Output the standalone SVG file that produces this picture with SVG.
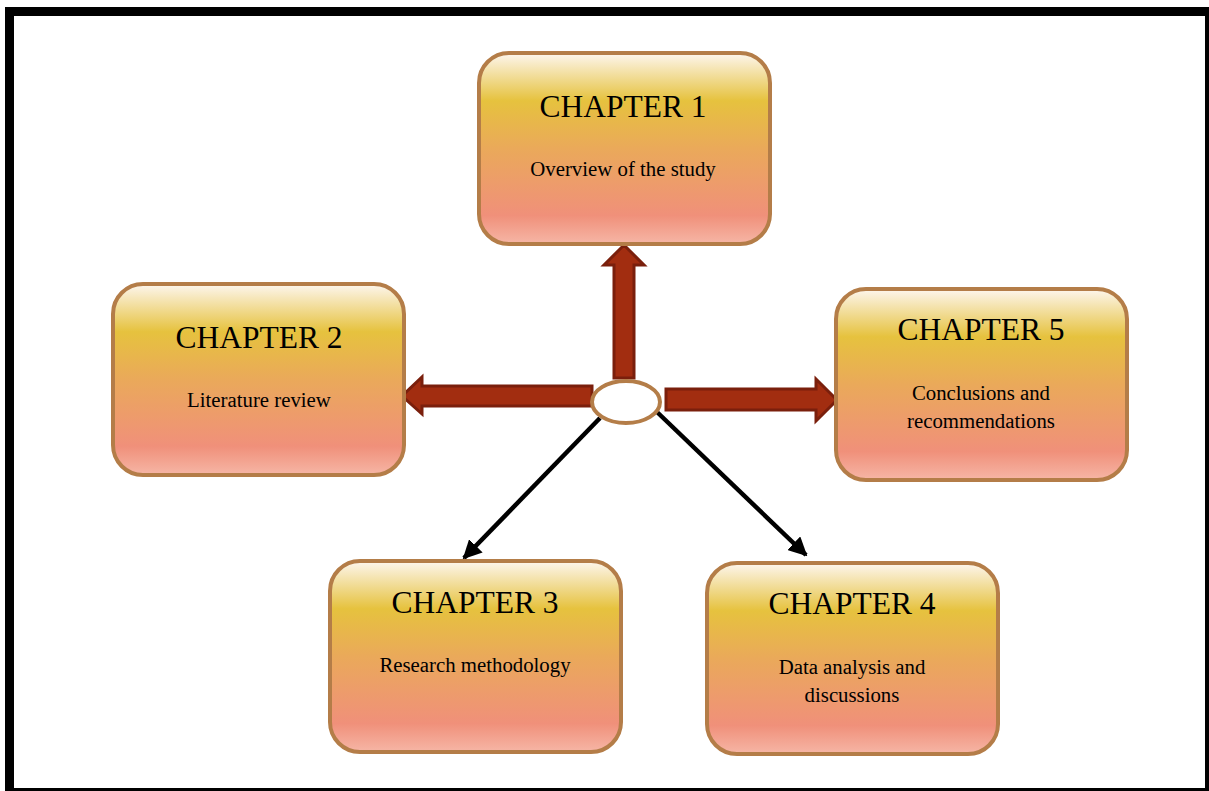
<svg xmlns="http://www.w3.org/2000/svg" width="1209" height="791" viewBox="0 0 1209 791">
<defs>
<linearGradient id="g" x1="0" y1="0" x2="0" y2="1">
<stop offset="0" stop-color="#fdf6ee"/>
<stop offset="0.25" stop-color="#e6c23e"/>
<stop offset="0.5" stop-color="#eaa95a"/>
<stop offset="0.85" stop-color="#f0907a"/>
<stop offset="1" stop-color="#f6b6a6"/>
</linearGradient>
<marker id="ah" viewBox="0 0 10 10" refX="9" refY="5" markerWidth="4.2" markerHeight="4.2" orient="auto" markerUnits="strokeWidth">
<path d="M0,0 L10,5 L0,10 z" fill="#000"/>
</marker>
<style>
.box{fill:url(#g);stroke:#b47d48;stroke-width:4}
.t1{font-family:"Liberation Serif","Times New Roman",serif;font-size:31.5px;text-anchor:middle;fill:#000}
.t2{font-family:"Liberation Serif","Times New Roman",serif;font-size:20.8px;text-anchor:middle;fill:#000}
.fat{fill:#a22d10;stroke:#7a1f0c;stroke-width:3;stroke-linejoin:miter}
.thin{stroke:#000;stroke-width:4.5;fill:none}
</style>
</defs>
<rect x="0" y="0" width="1209" height="791" fill="#fff"/>
<rect x="9.5" y="11.5" width="1200" height="781" fill="none" stroke="#000" stroke-width="9"/>
<g id="connectors">
<path class="fat" d="M614,378 L614,265 L604,265 L624,245 L644,265 L634,265 L634,378 Z"/>
<path class="fat" d="M592,386 L422,386 L422,377 L402,396 L422,414 L422,406 L592,406 Z"/>
<path class="fat" d="M666,389 L816,389 L816,379 L837,400 L816,421 L816,410 L666,410 Z"/>
<line class="thin" x1="600" y1="418" x2="464" y2="558" marker-end="url(#ah)"/>
<line class="thin" x1="657" y1="412" x2="806" y2="555" marker-end="url(#ah)"/>
</g>
<g id="hub">
<ellipse cx="626" cy="402" rx="34" ry="21" fill="#fff" stroke="#b47d48" stroke-width="4"/>
</g>
<g id="ch1">
<rect class="box" x="479" y="53" width="291" height="191" rx="30"/>
<text class="t1" x="623" y="117">CHAPTER 1</text>
<text class="t2" x="623" y="176">Overview of the study</text>
</g>
<g id="ch2">
<rect class="box" x="113" y="284" width="291" height="191" rx="30"/>
<text class="t1" x="259" y="348">CHAPTER 2</text>
<text class="t2" x="259" y="407">Literature review</text>
</g>
<g id="ch5">
<rect class="box" x="836" y="289" width="291" height="191" rx="30"/>
<text class="t1" x="981" y="340">CHAPTER 5</text>
<text class="t2" x="981" y="400">Conclusions and</text>
<text class="t2" x="981" y="428">recommendations</text>
</g>
<g id="ch3">
<rect class="box" x="330" y="561" width="291" height="191" rx="30"/>
<text class="t1" x="475" y="613">CHAPTER 3</text>
<text class="t2" x="475" y="672">Research methodology</text>
</g>
<g id="ch4">
<rect class="box" x="707" y="563" width="291" height="191" rx="30"/>
<text class="t1" x="852" y="614">CHAPTER 4</text>
<text class="t2" x="852" y="674">Data analysis and</text>
<text class="t2" x="852" y="702">discussions</text>
</g>
</svg>
